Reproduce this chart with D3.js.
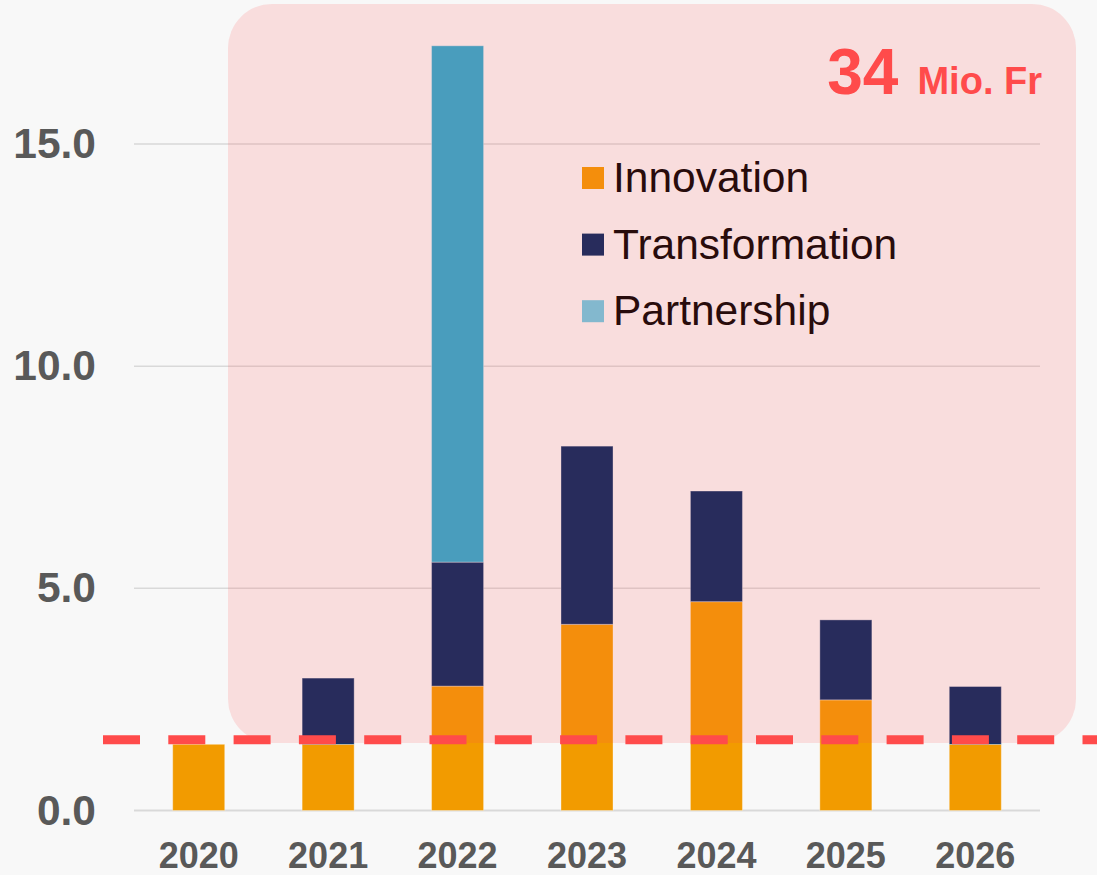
<!DOCTYPE html>
<html>
<head>
<meta charset="utf-8">
<script src="https://d3js.org/d3.v7.min.js"></script>
<style>
body { margin:0; background:#f8f8f8; }
text { font-family: "Liberation Sans", Arial, sans-serif; }
</style>
</head>
<body>
<div id="chart"></div>
<script>
var years = ["2020","2021","2022","2023","2024","2025","2026"];
var innovation = [1.49, 1.49, 2.8, 4.19, 4.7, 2.49, 1.49];
var transformation = [0, 1.49, 2.79, 4.01, 2.49, 1.8, 1.3];
var partnership = [0, 0, 11.62, 0, 0, 0, 0];
var seriesNames = ["Innovation","Transformation","Partnership"];
var yTicks = [0, 5, 10, 15];
var threshold = 1.59;
var totalLabel = "34";
var unitLabel = "Mio. Fr";

var w = 1097;
var h = 875;
var barColors = {Innovation:"#f29b00", Transformation:"#00265f", Partnership:"#28acd2"};
var swatchColors = {Innovation:"#f29b00", Transformation:"#00265f", Partnership:"#6dcce6"};

var table = years.map(function(y, i){
    return {year:y, Innovation:innovation[i], Transformation:transformation[i], Partnership:partnership[i]};
});
var stacked = d3.stack().keys(seriesNames)(table);

var xScale = d3.scaleBand()
    .domain(years)
    .range([134, 1040])
    .paddingInner(0.598)
    .paddingOuter(0.299);
var yScale = d3.scaleLinear()
    .domain([0, 15])
    .range([810.5, 144]);

var svg = d3.select("#chart")
.append("svg")
.attr("width", w)
.attr("height", h);

svg.append("rect").attr("width", w).attr("height", h).attr("fill", "#f8f8f8");

// grid
svg.append("g")
    .selectAll("line")
    .data(yTicks)
    .enter()
    .append("line")
    .attr("x1", 134)
    .attr("x2", 1040)
    .attr("y1", function(d){ return yScale(d); })
    .attr("y2", function(d){ return yScale(d); })
    .attr("stroke", "#d9d9d9")
    .attr("stroke-width", function(d){ return d == 0 ? 2 : 1.5; });

// bars
svg.append("g")
    .selectAll("g")
    .data(stacked)
    .enter()
    .append("g")
    .attr("fill", function(s){ return barColors[s.key]; })
    .selectAll("rect")
    .data(function(s){ return s.filter(function(d){ return d[1] - d[0] > 0; }); })
    .enter()
    .append("rect")
    .attr("x", function(d){ return xScale(d.data.year); })
    .attr("y", function(d){ return yScale(d[1]); })
    .attr("width", xScale.bandwidth())
    .attr("height", function(d){ return yScale(d[0]) - yScale(d[1]); })
    .attr("stroke", "rgba(255,255,255,0.35)")
    .attr("stroke-width", 1);

// axes labels
var yAxis = d3.axisLeft(yScale).tickValues(yTicks).tickFormat(d3.format(".1f")).tickSize(0).tickPadding(0);
svg.append("g")
    .attr("transform", "translate(96,0)")
    .call(yAxis)
    .call(function(g){ g.select(".domain").remove(); })
    .selectAll("text")
    .attr("font-size", 42.5)
    .attr("font-weight", "bold")
    .attr("fill", "#595959")
    .attr("font-family", "'Liberation Sans', Arial, sans-serif");

var xAxis = d3.axisBottom(xScale).tickSize(0).tickPadding(0);
svg.append("g")
    .attr("transform", "translate(0,840)")
    .call(xAxis)
    .call(function(g){ g.select(".domain").remove(); })
    .selectAll("text")
    .attr("dy", "0.78em")
    .attr("font-size", 36)
    .attr("font-weight", "bold")
    .attr("fill", "#595959")
    .attr("font-family", "'Liberation Sans', Arial, sans-serif");

// legend
var legend = svg.append("g").attr("transform", "translate(582,167)");
var items = legend.selectAll("g")
    .data(seriesNames)
    .enter()
    .append("g")
    .attr("transform", function(d, i){ return "translate(0," + (i * 66.6) + ")"; });
items.append("rect")
    .attr("width", 22)
    .attr("height", 22)
    .attr("fill", function(d){ return swatchColors[d]; });
items.append("text")
    .attr("x", 31)
    .attr("y", 25)
    .attr("font-size", 42.5)
    .attr("fill", "#000")
    .text(function(d){ return d; });

// highlight box
svg.append("rect")
    .attr("x", 228)
    .attr("y", 4)
    .attr("width", 848)
    .attr("height", 739)
    .attr("rx", 44)
    .attr("fill", "rgba(255,75,75,0.156)");

// threshold line
svg.append("line")
    .attr("x1", 103)
    .attr("x2", w)
    .attr("y1", yScale(threshold))
    .attr("y2", yScale(threshold))
    .attr("stroke", "#ff4b4b")
    .attr("stroke-width", 9)
    .attr("stroke-dasharray", "37,28.3");

var total = svg.append("text")
    .attr("x", 1042)
    .attr("y", 94)
    .attr("text-anchor", "end")
    .attr("fill", "#ff4b4b")
    .attr("font-weight", "bold");
total.append("tspan").attr("font-size", 64).text(totalLabel);
total.append("tspan").attr("font-size", 38).attr("dx", 19).text(unitLabel);
</script>
</body>
</html>
